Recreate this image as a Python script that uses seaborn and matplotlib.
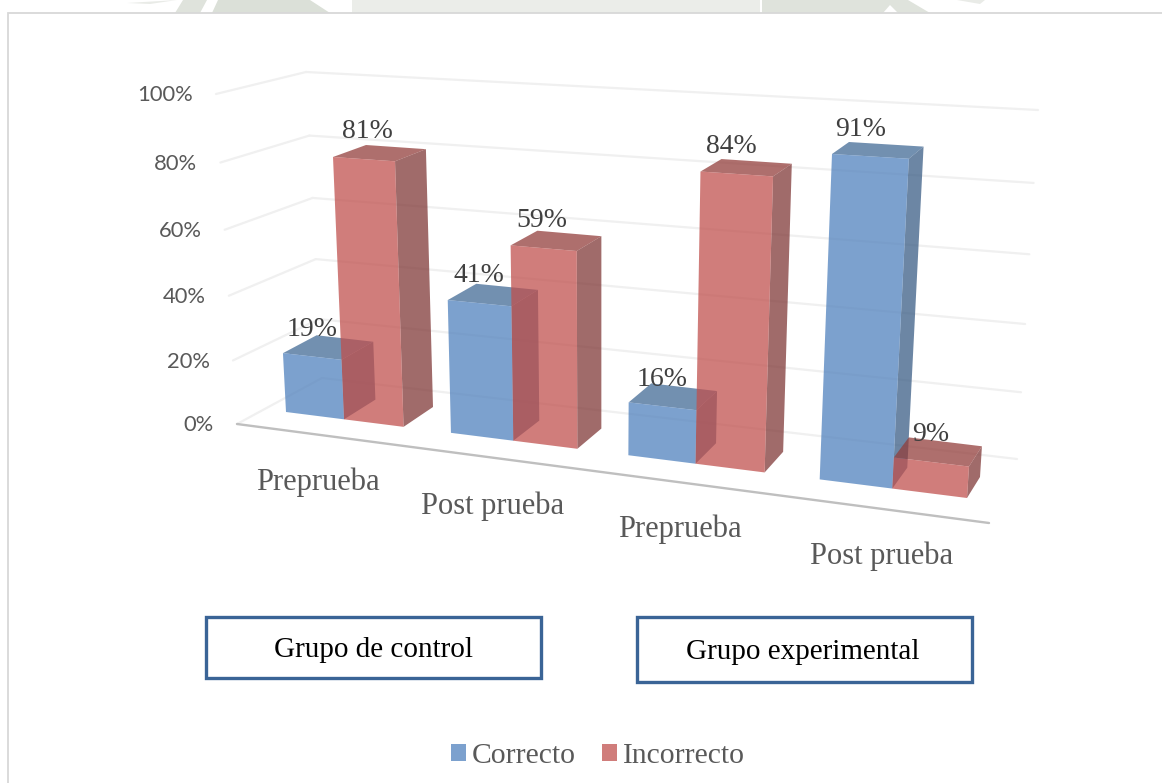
import numpy as np
import pandas as pd
import matplotlib
matplotlib.use("Agg")
import matplotlib.pyplot as plt
import matplotlib.transforms as mtransforms
from matplotlib.patches import Polygon, FancyBboxPatch, Rectangle
import seaborn as sns

# -------------------
# Data
etapas = ["control_pre", "control_post", "exp_pre", "exp_post"]
etiquetas = ["Preprueba", "Post prueba", "Preprueba", "Post prueba"]
correcto = [19, 41, 16, 91]
incorrecto = [81, 59, 84, 9]
series = ["Correcto", "Incorrecto"]
grupos = ["Grupo de control", "Grupo experimental"]
y_ticks = [0, 20, 40, 60, 80, 100]

W, H = 1162, 783
ALPHA = 0.74
SERIF = "Liberation Serif"

colores = {"Correcto": "#4F81BD", "Incorrecto": "#C0504D"}
lateral = {"Correcto": "#395C84", "Incorrecto": "#7F3736"}
tapa = {"Correcto": "#416995", "Incorrecto": "#923D3A"}

# small label nudges, in pixels
dx_correcto = [0, 0, 0, -10]
dx_incorrecto = [4, -2, -5, 0]
cat_dx = [2, 6, 7, 3]
cat_dy = [3, 5, 3, 3]


# -------------------
# Perspective: plain 2D homography from (category, percent) to image pixels
class Homography(mtransforms.Transform):
    input_dims = 2
    output_dims = 2

    def __init__(self, src, dst):
        super().__init__()
        A, b = [], []
        for (x, y), (u, v) in zip(src, dst):
            A.append([x, y, 1, 0, 0, 0, -u * x, -u * y])
            A.append([0, 0, 0, x, y, 1, -v * x, -v * y])
            b += [u, v]
        self.m = np.append(np.linalg.solve(np.array(A, float), np.array(b, float)), 1).reshape(3, 3)

    def transform_non_affine(self, values):
        pts = np.column_stack([values, np.ones(len(values))]) @ self.m.T
        return pts[:, :2] / pts[:, 2:]


bars_src = [(-0.36, 0), (3.36, 0), (0, 81), (2.64, 91)]
front_bar = Homography(bars_src, [(286, 412), (967, 498), (333, 157), (832, 154)])
back_bar = Homography([(0.36, 0), (3.36, 0), (0, 81), (2.64, 91)],
                      [(433, 407), (980, 477), (366, 145), (849, 142)])
wall_src = [(-0.5, 0), (3.5, 0), (-0.5, 100), (3.5, 100)]
wall = Homography(wall_src, [(322, 378), (1017, 459), (306, 72), (1038, 110)])
floor_front = Homography(wall_src, [(237, 424), (989, 523), (216, 94), (1008, 125)])

# -------------------
df = pd.DataFrame({
    "etapa": etapas * 2,
    "respuesta": [series[0]] * 4 + [series[1]] * 4,
    "pct": correcto + incorrecto})

sns.set_theme(style="white")
plt.rcParams["font.family"] = [SERIF, "DejaVu Sans"]

fig = plt.figure(figsize=(W / 100, H / 100), dpi=100)
ax = fig.add_axes([0, 0, 1, 1])
sns.barplot(data=df, x="etapa", y="pct", hue="respuesta", order=etapas, hue_order=series,
            palette=colores, saturation=1, alpha=ALPHA, width=0.72, gap=0, linewidth=0, ax=ax)
ax.axis("off")

pixels = mtransforms.Affine2D().scale(1 / W, -1 / H).translate(0, 1) + fig.transFigure
front_tf = front_bar + pixels
wall_tf = wall + pixels
floor_tf = floor_front + pixels


def face(points, color, z):
    ax.add_patch(Polygon(points, closed=True, facecolor=color, edgecolor="none", alpha=ALPHA,
                         transform=pixels, zorder=z, clip_on=False))


# -------------------
# Frame and watermark strip above the chart
for strip, col in (([(127, 3), (177, 0), (150, 4)], "#E9EBE7"),
                   ([(175, 13), (183, 0), (207, 0), (200, 13)], "#DFE3DC"),
                   ([(212, 13), (218, 0), (310, 0), (330, 13)], "#DBE0D8"),
                   ([(352, 0), (760, 0), (760, 13), (352, 13)], "#EBEDE9"),
                   ([(762, 0), (908, 0), (930, 13), (898, 13), (890, 5), (883, 13), (762, 13)], "#DFE3DC"),
                   ([(957, 0), (985, 0), (980, 4)], "#E9EBE7")):
    ax.add_patch(Polygon(strip, closed=True, facecolor=col, edgecolor="none",
                         transform=pixels, zorder=0, clip_on=False))
ax.add_patch(Rectangle((8, 13), W, H, facecolor="white", edgecolor="#D8D8D8", linewidth=1.3,
                       transform=pixels, zorder=0.5, clip_on=False))

# -------------------
# Walls
for t in y_ticks:
    ax.plot([-0.5, 3.5], [t, t], transform=wall_tf, color="#F0F0F0", lw=1.6, zorder=1)
    corner = wall.transform([(-0.5, t)])[0]
    start = floor_front.transform([(-0.5, t)])[0]
    ax.plot([start[0], corner[0]], [start[1], corner[1]], transform=pixels, color="#F0F0F0", lw=1.6, zorder=1)
    ax.annotate(f"{t}%", xy=(-0.5, t), xycoords=floor_tf, xytext=(-16.5, -1), textcoords="offset points",
                ha="right", va="center", family="Lato", fontsize=15.8, color="#595959")
ax.plot([-0.5, 3.5], [0, 0], transform=floor_tf, color="#BFBFBF", lw=1.7, zorder=1.5)

# -------------------
# Bars: the seaborn rectangle is the front face, side and top come from its geometry
z = 2
for name, cont in zip(series, ax.containers):
    for bar in cont:
        bar.set_transform(front_tf)
        bar.set_clip_on(False)

for i in range(len(etapas)):
    for name, cont in zip(series, ax.containers):
        bar = cont[i]
        x0, x1, h = bar.get_x(), bar.get_x() + bar.get_width(), bar.get_height()
        fl, fr, tl, tr = front_bar.transform([(x0, 0), (x1, 0), (x0, h), (x1, h)])
        _, bbr, btl, btr = back_bar.transform([(x0, 0), (x1, 0), (x0, h), (x1, h)])
        face([fr, tr, btr, bbr], lateral[name], z)
        face([tl, tr, btr, btl], tapa[name], z + 0.1)
        bar.set_zorder(z + 0.2)
        z += 1

for cont, vals, nudges in zip(ax.containers, (correcto, incorrecto), (dx_correcto, dx_incorrecto)):
    for bar, v, dx in zip(cont, vals, nudges):
        ax.annotate(f"{v}%", xy=(bar.get_x() + bar.get_width() / 2, v), xycoords=front_tf,
                    xytext=(dx * 0.72, 19.6), textcoords="offset points", ha="center", va="center",
                    family=SERIF, fontsize=20, color="#404040", zorder=50)

# -------------------
# Category labels
for i, lab in enumerate(etiquetas):
    ax.annotate(lab, xy=(i, 0), xycoords=floor_tf, xytext=(cat_dx[i] * 0.72, -32 - cat_dy[i] * 0.72),
                textcoords="offset points", ha="center", va="center", family=SERIF, fontsize=22,
                color="#595959")

# -------------------
# Boxes
for lab, (x0, y0, x1, y1), (tx, ty) in zip(grupos,
                                           [(206, 617, 541, 678), (637, 617, 972, 682)],
                                           [(373, 650), (803, 652)]):
    ax.add_patch(FancyBboxPatch((x0, y0), x1 - x0, y1 - y0, boxstyle="square,pad=0", facecolor="white",
                                edgecolor="#3A6496", linewidth=2.4, transform=pixels, zorder=60, clip_on=False))
    ax.text(tx, ty, lab, transform=pixels, ha="center", va="center", family=SERIF,
            fontsize=21, color="black", zorder=61)

# -------------------
# Legend
sns.move_legend(ax, "center", bbox_to_anchor=(598 / W, 1 - 756 / H), bbox_transform=fig.transFigure,
                ncol=2, title=None, frameon=False, fontsize=21.3, handlelength=0.51, handleheight=0.51,
                handletextpad=0.2, columnspacing=0.9, labelcolor="#595959", borderpad=0)

fig.savefig("out.png", dpi=100, facecolor="white")
